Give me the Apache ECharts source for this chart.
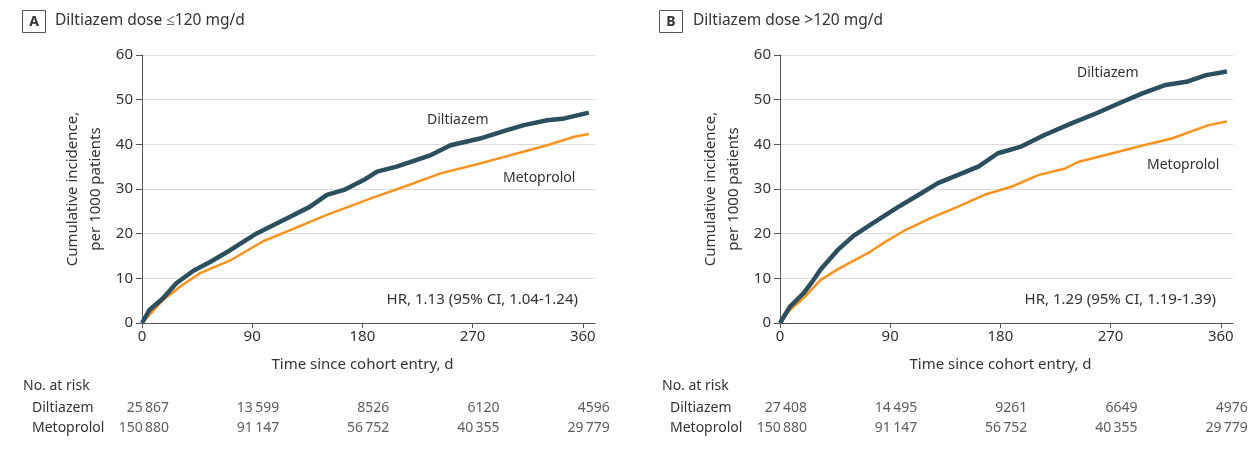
<!DOCTYPE html>
<html>
<head>
    <meta charset="UTF-8">
    <title>Diltiazem vs Metoprolol cumulative incidence</title>
    <script src="https://cdn.jsdelivr.net/npm/echarts@6/dist/echarts.min.js"></script>
    <style>
        body { margin: 0; background: #fff; }
        #main { width: 1254px; height: 453px; }
    </style>
</head>
<body>
    <div id="main"></div>
    <script>
        // curve samples: days since entry / events per 1000
        var dilDaysA = [0, 6, 17, 28, 42, 56, 72, 94, 105, 121, 137, 151, 165, 181, 192, 208, 236, 252, 276, 298, 312, 331, 345, 365];
        var dilRateA = [0, 2.9, 5.5, 8.9, 11.7, 13.7, 16.3, 20.1, 21.6, 23.8, 26.0, 28.7, 29.8, 32.0, 33.9, 35.0, 37.6, 39.8, 41.3, 43.2, 44.3, 45.4, 45.8, 47.1];
        var metDaysA = [0, 10, 17, 31, 47, 72, 99, 121, 151, 187, 214, 244, 276, 296, 312, 331, 353, 365];
        var metRateA = [0, 3.0, 5.1, 8.1, 11.1, 14.0, 18.3, 20.8, 24.2, 27.9, 30.5, 33.5, 35.7, 37.2, 38.4, 39.8, 41.7, 42.3];

        var dilDaysB = [0, 8, 19, 27, 33, 47, 60, 74, 88, 96, 112, 129, 145, 162, 178, 197, 216, 238, 258, 277, 296, 315, 332, 348, 365];
        var dilRateB = [0, 3.6, 6.6, 9.5, 11.9, 16.3, 19.5, 22.0, 24.5, 25.9, 28.5, 31.3, 33.1, 35.0, 38.0, 39.5, 42.1, 44.7, 46.9, 49.2, 51.4, 53.3, 54.0, 55.5, 56.3];
        var metDaysB = [0, 8, 19, 33, 47, 74, 85, 101, 123, 145, 167, 189, 211, 233, 244, 266, 293, 320, 350, 365];
        var metRateB = [0, 2.9, 5.5, 9.6, 12.0, 16.0, 18.0, 20.6, 23.5, 26.0, 28.7, 30.5, 33.1, 34.6, 36.1, 37.6, 39.5, 41.3, 44.3, 45.1];

        // number at risk table
        var riskDays = [0, 90, 180, 270, 360];
        var groups = ['Diltiazem', 'Metoprolol'];
        var dilRiskA = [25867, 13599, 8526, 6120, 4596];
        var metRiskA = [150880, 91147, 56752, 40355, 29779];
        var dilRiskB = [27408, 14495, 9261, 6649, 4976];
        var metRiskB = [150880, 91147, 56752, 40355, 29779];

        var xTicks = [0, 90, 180, 270, 360];
        var panelTitles = ['Diltiazem dose \u2264120 mg/d', 'Diltiazem dose >120 mg/d'];
        var hrTexts = ['HR, 1.13 (95% CI, 1.04-1.24)', 'HR, 1.29 (95% CI, 1.19-1.39)'];

        var FONT = 'Noto Sans';
        var TXT = '#333';
        var DIL = '#2b4f5c';
        var MET = '#f7931e';

        function zip(a, b) {
            return a.map(function (d, i) { return [d, b[i]]; });
        }
        function riskRows(dil, met) {
            var out = [];
            riskDays.forEach(function (d, i) {
                out.push([d, groups[0], dil[i]]);
                out.push([d, groups[1], met[i]]);
            });
            return out;
        }
        function fmt(n) {
            // thin space grouping for 5+ digit numbers
            var s = String(n);
            if (s.length < 5) return s;
            return s.replace(/\B(?=(\d{3})+(?!\d))/g, '\u2009');
        }

        var lefts = [142, 780];

        var grids = [], xAxes = [], yAxes = [], series = [];
        lefts.forEach(function (left, p) {
            grids.push({ left: left, top: 55, width: 453, height: 268 });
            grids.push({ left: left, top: 398, width: 453, height: 40 });

            xAxes.push({
                type: 'value', gridIndex: p * 2, min: 0, max: 370, interval: 90,
                name: 'Time since cohort entry, d', nameLocation: 'middle', nameGap: 34,
                nameTextStyle: { color: TXT, fontSize: 15, fontFamily: FONT, padding: [0, 12, 0, 0] },
                axisLine: { lineStyle: { color: '#555', width: 1 } },
                axisTick: { length: 5, customValues: xTicks, lineStyle: { color: '#555' } },
                axisLabel: { customValues: xTicks, color: TXT, fontSize: 15, fontFamily: FONT, margin: 6 },
                splitLine: { show: false }
            });
            xAxes.push({ type: 'value', gridIndex: p * 2 + 1, min: 0, max: 370, show: false });

            yAxes.push({
                type: 'value', gridIndex: p * 2, min: 0, max: 60, interval: 10,
                name: 'Cumulative incidence,\nper 1000 patients', nameLocation: 'middle', nameGap: 35,
                nameTextStyle: { color: TXT, fontSize: 15, fontFamily: FONT, lineHeight: 23 },
                axisLine: { show: true, lineStyle: { color: '#555', width: 1 } },
                axisTick: { show: true, length: 6, lineStyle: { color: '#555' } },
                axisLabel: { color: TXT, fontSize: 15, fontFamily: FONT, margin: 9 },
                splitLine: { lineStyle: { color: '#dcdcdc', width: 1 } }
            });
            yAxes.push({
                type: 'category', gridIndex: p * 2 + 1, data: groups, inverse: true,
                axisLine: { show: false }, axisTick: { show: false },
                axisLabel: { align: 'left', margin: 110, color: TXT, fontSize: 14, fontFamily: FONT }
            });
        });

        var lineSets = [
            [zip(dilDaysA, dilRateA), zip(metDaysA, metRateA)],
            [zip(dilDaysB, dilRateB), zip(metDaysB, metRateB)]
        ];
        var riskSets = [riskRows(dilRiskA, metRiskA), riskRows(dilRiskB, metRiskB)];

        [0, 1].forEach(function (p) {
            series.push({
                name: 'Metoprolol', type: 'line', xAxisIndex: p * 2, yAxisIndex: p * 2,
                data: lineSets[p][1], showSymbol: false,
                lineStyle: { color: MET, width: 2.5, join: 'round' }, z: 3
            });
            series.push({
                name: 'Diltiazem', type: 'line', xAxisIndex: p * 2, yAxisIndex: p * 2,
                data: lineSets[p][0], showSymbol: false,
                lineStyle: { color: DIL, width: 4.5, join: 'round' }, z: 4
            });
            series.push({
                type: 'scatter', xAxisIndex: p * 2 + 1, yAxisIndex: p * 2 + 1,
                data: riskSets[p], symbolSize: 0, silent: true,
                label: {
                    show: true, position: 'inside', align: 'right', offset: [27, 0],
                    color: TXT, fontSize: 14, fontFamily: FONT,
                    formatter: function (prm) { return fmt(prm.value[2]); }
                }
            });
        });

        var textStyle = function (o) {
            return Object.assign({ fill: TXT, fontSize: 15, fontFamily: FONT }, o);
        };

        var graphics = [];
        [['A', 22, 55], ['B', 659, 693]].forEach(function (g, p) {
            graphics.push({ type: 'rect', shape: { x: g[1] + 0.5, y: 10.5, width: 23, height: 22 },
                style: { fill: '#fff', stroke: '#555', lineWidth: 1 } });
            graphics.push({ type: 'text', x: g[1] + 12, y: 22,
                style: textStyle({ text: g[0], fontWeight: 'bold', fontSize: 14, align: 'center', verticalAlign: 'middle' }) });
            graphics.push({ type: 'text', x: g[2], y: 21,
                style: textStyle({ text: panelTitles[p], fontSize: 15.5, verticalAlign: 'middle' }) });
        });
        [[23, 32], [662, 671]].forEach(function (g) {
            graphics.push({ type: 'text', x: g[0], y: 386, style: textStyle({ text: 'No. at risk', fontSize: 14, verticalAlign: 'middle' }) });
        });
        // HR annotations and curve labels
        graphics.push({ type: 'text', x: 578, y: 300, style: textStyle({ text: hrTexts[0], align: 'right', verticalAlign: 'middle', fontSize: 15 }) });
        graphics.push({ type: 'text', x: 1216, y: 300, style: textStyle({ text: hrTexts[1], align: 'right', verticalAlign: 'middle', fontSize: 15 }) });
        graphics.push({ type: 'text', x: 427, y: 120, style: textStyle({ text: 'Diltiazem', verticalAlign: 'middle', fontSize: 14 }) });
        graphics.push({ type: 'text', x: 503, y: 178, style: textStyle({ text: 'Metoprolol', verticalAlign: 'middle', fontSize: 14 }) });
        graphics.push({ type: 'text', x: 1077, y: 73, style: textStyle({ text: 'Diltiazem', verticalAlign: 'middle', fontSize: 14 }) });
        graphics.push({ type: 'text', x: 1147, y: 165, style: textStyle({ text: 'Metoprolol', verticalAlign: 'middle', fontSize: 14 }) });

        var chart = echarts.init(document.getElementById('main'));
        chart.setOption({
            animation: false,
            backgroundColor: '#fff',
            textStyle: { fontFamily: FONT },
            grid: grids,
            xAxis: xAxes,
            yAxis: yAxes,
            series: series,
            graphic: graphics
        });
    </script>
</body>
</html>
